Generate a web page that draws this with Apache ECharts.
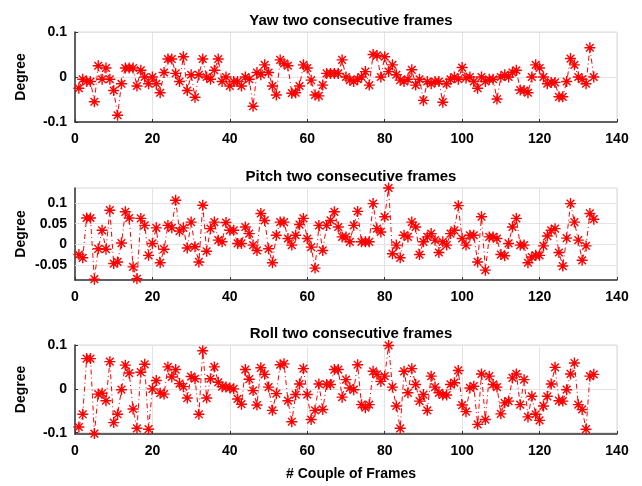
<!DOCTYPE html>
<html><head><meta charset="utf-8">
<script src="https://cdn.jsdelivr.net/npm/echarts@6/dist/echarts.min.js"></script>
<style>html,body{margin:0;padding:0;background:#fff}#c{width:642px;height:486px}</style>
</head><body><div id="c"></div>
<script>
const titles = ["Yaw two consecutive frames", "Pitch two consecutive frames", "Roll two consecutive frames"];
const xTicks = [0, 20, 40, 60, 80, 100, 120, 140];
const yawTicks = [-0.1, 0, 0.1];
const pitchTicks = [-0.05, 0, 0.05, 0.1];
const rollTicks = [-0.1, 0, 0.1];
const yaw = [-0.025,-0.005,-0.01,-0.01,-0.055,0.025,-0.005,0.02,-0.005,-0.03,-0.085,-0.015,0.02,0.02,0.02,-0.02,0.015,0.0,-0.015,0.0,
-0.015,-0.035,0.01,0.04,0.04,0.008,-0.01,0.045,-0.03,0.005,-0.045,0.005,0.04,0.0,-0.005,0.015,0.04,-0.01,0.0,-0.02,
-0.01,-0.01,-0.02,0.0,-0.005,-0.065,0.01,0.005,0.027,0.01,-0.02,-0.04,0.038,0.03,0.025,-0.036,-0.035,-0.02,0.027,0.02,
-0.007,-0.04,-0.042,-0.018,0.008,0.008,0.008,0.008,0.038,0.0,-0.007,-0.01,-0.005,0.0,0.012,-0.018,0.05,0.048,0.0,0.045,
0.012,0.027,0.005,-0.007,-0.01,-0.005,0.016,-0.018,-0.005,-0.052,-0.01,-0.015,-0.01,-0.01,-0.056,-0.015,-0.005,0.0,-0.005,0.021,
-0.002,0.0,-0.01,-0.025,0.0,-0.01,-0.005,-0.005,-0.049,0.0,0.005,0.0,0.01,0.015,-0.029,-0.03,-0.035,0.0,0.027,0.02,
0.0,-0.015,-0.012,-0.012,-0.044,-0.044,-0.01,0.041,0.027,0.0,-0.005,-0.015,0.065,0.0];
const pitch = [-0.025,-0.033,0.064,0.064,-0.085,-0.011,0.034,-0.012,0.083,-0.047,-0.043,0.003,0.079,0.064,-0.055,-0.084,0.063,0.046,-0.027,0.002,
0.04,-0.045,-0.012,0.046,0.04,0.107,0.032,0.04,-0.009,0.054,-0.006,-0.043,0.095,-0.017,0.038,0.054,0.01,0.006,0.053,0.034,
0.034,0.002,0.002,0.042,0.026,-0.002,-0.015,0.075,0.058,-0.011,-0.045,0.022,0.054,0.054,0.014,-0.002,0.022,0.048,0.063,0.014,
-0.007,-0.058,0.046,-0.015,0.046,0.058,0.079,0.042,0.018,0.018,0.006,0.046,0.08,0.006,0.006,0.006,0.099,0.038,0.03,0.067,
0.137,-0.023,-0.002,-0.033,0.022,0.018,0.054,0.042,-0.025,0.006,0.018,0.026,0.01,-0.02,0.006,-0.002,0.026,0.034,0.094,0.014,
-0.002,0.022,0.022,-0.043,0.067,-0.063,0.018,0.018,0.014,-0.025,-0.028,0.002,0.042,0.063,-0.002,-0.002,-0.045,-0.031,-0.027,-0.027,
-0.004,0.02,0.034,0.038,-0.02,-0.053,0.015,0.099,0.054,0.01,-0.039,-0.004,0.075,0.061];
const roll = [-0.087,-0.058,0.069,0.069,-0.102,-0.012,-0.01,-0.027,0.062,-0.077,-0.058,-0.002,0.054,0.036,-0.046,-0.09,0.038,0.056,-0.092,0.0,
0.019,-0.01,-0.012,0.05,0.027,0.044,0.012,0.005,-0.021,0.028,0.023,-0.058,0.087,-0.021,0.023,0.05,0.015,0.005,0.004,0.002,
0.0,-0.023,-0.035,0.044,0.022,-0.004,-0.037,0.048,0.033,0.004,-0.049,-0.011,0.055,0.057,-0.027,-0.075,-0.013,0.011,0.046,-0.013,
-0.07,-0.049,0.011,-0.047,0.01,0.01,0.044,0.044,-0.019,0.021,0.002,-0.002,0.055,-0.036,-0.043,-0.036,0.04,0.033,0.017,0.029,
0.099,0.004,-0.039,-0.09,0.04,-0.009,0.046,0.01,-0.028,-0.013,-0.049,0.029,0.004,-0.009,-0.014,-0.014,0.01,0.014,0.042,-0.037,
-0.052,0.002,0.006,-0.081,0.034,-0.07,0.029,0.01,0.004,-0.057,-0.032,-0.028,0.025,0.034,-0.036,0.021,-0.064,-0.017,-0.058,-0.072,
-0.039,-0.017,0.011,0.049,-0.027,-0.028,-0.002,0.034,0.059,-0.036,-0.047,-0.092,0.029,0.033];

const FONT = '"Liberation Sans", Arial, sans-serif';
const star = 'path://M5,0L5,10M0,5L10,5M1.5,1.5L8.5,8.5M1.5,8.5L8.5,1.5';
const grids = [
  {left: 75, right: 25, top: 32, height: 90},
  {left: 75, right: 25, top: 188, height: 92},
  {left: 75, right: 25, top: 345, height: 89}
];
const yRanges = [[-0.1, 0.1], [-0.087, 0.137], [-0.103, 0.1]];
const yTickSets = [yawTicks, pitchTicks, rollTicks];
const seriesData = [yaw, pitch, roll];
const CX = 75 + (642 - 100) / 2;

const option = {
  animation: false,
  backgroundColor: '#fff',
  title: titles.map((t, i) => ({
    text: t, left: CX, textAlign: 'center', top: grids[i].top - 24,
    textStyle: {fontFamily: FONT, fontSize: 15, fontWeight: 'bold', color: '#000'}
  })).concat([{
    text: '# Couple of Frames', left: CX, textAlign: 'center', top: 462,
    textStyle: {fontFamily: FONT, fontSize: 14, fontWeight: 'bold', color: '#000'}
  }]),
  graphic: grids.map(g => ({
    type: 'text', rotation: Math.PI / 2, x: 21, y: g.top + g.height / 2,
    style: {text: 'Degree', font: 'bold 14px ' + FONT, fill: '#000', align: 'center', verticalAlign: 'middle'}
  })),
  grid: grids.map(g => Object.assign({show: true, borderColor: '#d9d9d9', borderWidth: 1, backgroundColor: '#fff'}, g)),
  xAxis: grids.map((g, i) => ({
    gridIndex: i, type: 'value', min: xTicks[0], max: xTicks[xTicks.length - 1], interval: 20,
    axisLine: {onZero: false, lineStyle: {color: '#333', width: 1.5}},
    axisTick: {inside: true, length: 3, lineStyle: {color: '#333'}},
    splitLine: {show: true, lineStyle: {color: '#e3e3e3', width: 1}},
    axisLabel: {fontFamily: FONT, fontSize: 14, fontWeight: 'bold', color: '#000', margin: 10}
  })),
  yAxis: grids.map((g, i) => {
    const ax = {
      gridIndex: i, type: 'value', min: yRanges[i][0], max: yRanges[i][1],
      axisLine: {show: true, onZero: false, lineStyle: {color: '#333', width: 1.5}},
      axisTick: {show: true, inside: true, length: 3, lineStyle: {color: '#333'}},
      splitLine: {show: true, lineStyle: {color: '#e3e3e3', width: 1}},
      axisLabel: {fontFamily: FONT, fontSize: 14, fontWeight: 'bold', color: '#000', margin: 8,
        formatter: v => String(Math.round(v * 1000) / 1000)}
    };
    if (i === 1) {
      ax.axisLabel.customValues = pitchTicks;
      ax.axisTick.customValues = pitchTicks;
      ax.splitLine.show = false;
    } else {
      ax.interval = 0.1;
      ax.axisLabel.customValues = yTickSets[i];
      ax.axisTick.customValues = yTickSets[i];
    }
    return ax;
  }),
  series: seriesData.map((d, i) => {
    const s = {
      type: 'line', xAxisIndex: i, yAxisIndex: i,
      data: d.map((v, k) => [k + 1, v]),
      symbol: star, symbolSize: 11,
      lineStyle: {color: '#ff0000', width: 1, type: [5, 3, 1, 3]},
      itemStyle: {color: '#ff0000', borderColor: '#ff0000', borderWidth: 1.4},
      clip: false, z: 3
    };
    if (i === 1) {
      s.markLine = {
        silent: true, symbol: 'none', label: {show: false}, animation: false,
        lineStyle: {color: '#e3e3e3', width: 1, type: 'solid'},
        data: pitchTicks.map(t => ({yAxis: t}))
      };
      s.markLine.z = 1;
    }
    return s;
  })
};
const chart = echarts.init(document.getElementById('c'), null, {renderer: 'canvas'});
chart.setOption(option);
</script></body></html>
